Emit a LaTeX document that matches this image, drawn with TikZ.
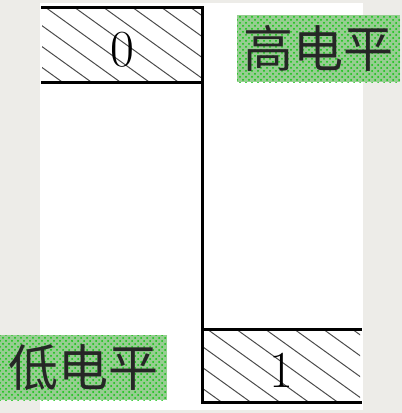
\documentclass[tikz,border=0pt]{standalone}
\usepackage{fontspec}
\newfontfamily\cjk{Noto Sans CJK SC}
\usepackage{tikz}
\usetikzlibrary{patterns}
\definecolor{paper}{RGB}{237,236,232}
\definecolor{dotbase}{RGB}{150,205,145}
\definecolor{dotgreen}{RGB}{10,195,10}

\tikzset{
  bar/.style={line width=1.5pt, line cap=rect},
  hatch/.style={line width=0.5pt, gray!60!black},
  levelbox/.style={preaction={fill=dotbase}, pattern=crosshatch dots, pattern color=dotgreen,
    inner sep=0pt, font=\cjk\fontsize{25}{28}\selectfont, text=black!85},
  bit/.style={font=\fontsize{26}{30}\selectfont}
}

\begin{document}
\begin{tikzpicture}[x=0.5pt, y=-0.5pt]
% 背景
\fill[paper] (0,0) rectangle (402,413);
\fill[white] (40,3) rectangle (363,410);
\useasboundingbox (0,0) rectangle (402,413);

% 上面的格子
\begin{scope}
\clip (42,7) rectangle (202,82);
\foreach \x in {-129,-100,...,200}
  \draw[hatch] (\x,7) -- ++(200,144);
\end{scope}
\draw[bar] (42,7) -- (202,7);
\draw[bar] (42,82) -- (202,82);
\node[bit] (zero) at (122,50) {0};

% 下面的格子
\begin{scope}
\clip (202,329) rectangle (360,402);
\foreach \x in {91,120,...,360}
  \draw[hatch] (\x,329) -- ++(200,144);
\end{scope}
\draw[bar] (202,329) -- (360,329);
\draw[bar] (202,402) -- (360,402);
\node[bit] (one) at (281,370) {1};

% 竖线
\draw[bar] (202,7) -- (202,402);

% 电平标签
\node[levelbox, minimum width=81.5pt, minimum height=33.5pt] (high) at (318.5,48.5) {高电平};
\node[levelbox, minimum width=83.5pt, minimum height=32.5pt] (low) at (83.5,367.5) {低电平};
\end{tikzpicture}
\end{document}
